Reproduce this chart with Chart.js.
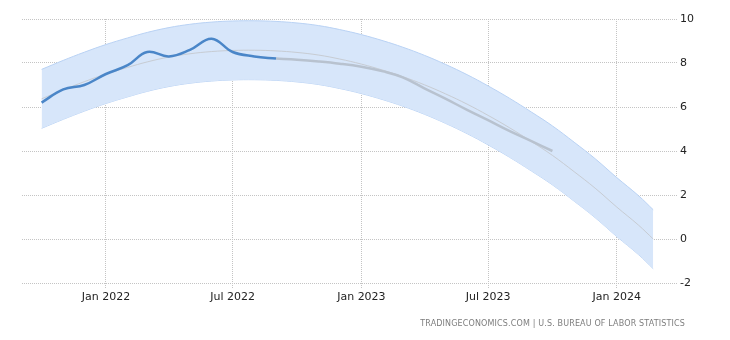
<!DOCTYPE html>
<html>
<head>
<meta charset="utf-8">
<script src="https://cdn.jsdelivr.net/npm/chart.js@4.4.1/dist/chart.umd.min.js"></script>
<style>
  html, body { margin: 0; padding: 0; background: #fff; }
  #wrap { position: relative; width: 730px; height: 340px; }
  #source {
    position: absolute; right: 45px; top: 319px;
    font: 8px "DejaVu Sans", sans-serif; color: #7d7d7d;
    letter-spacing: 0.15px; white-space: nowrap;
  }
</style>
</head>
<body>
<div id="wrap">
  <canvas id="chart" width="730" height="340"></canvas>
  <div id="source">TRADINGECONOMICS.COM | U.S. BUREAU OF LABOR STATISTICS</div>
</div>
<script>
// inflation rate, monthly (YoY %)
const actualDates = ['2021-10-01','2021-11-01','2021-12-01','2022-01-01','2022-02-01','2022-03-01',
                     '2022-04-01','2022-05-01','2022-06-01','2022-07-01','2022-08-01','2022-09-01'];
const actualValues = [6.2, 6.8, 7.0, 7.5, 7.9, 8.5, 8.3, 8.6, 9.1, 8.5, 8.3, 8.2];

// forecast path
const forecastDates = ['2022-09-01','2022-10-01','2022-11-01','2022-12-01','2023-01-01','2023-02-01','2023-03-01',
                       '2023-04-01','2023-05-01','2023-06-01','2023-07-01','2023-08-01','2023-09-01','2023-10-01'];
const forecastValues = [8.2, 8.15, 8.07, 7.97, 7.83, 7.62, 7.35, 6.85, 6.38, 5.87, 5.4, 4.9, 4.45, 4.0];

// long-run trend and its range
const trendDates = ['2021-10-01','2021-11-01','2021-12-01','2022-01-01','2022-02-01','2022-03-01','2022-04-01',
                    '2022-05-01','2022-06-01','2022-07-01','2022-08-01','2022-09-01','2022-10-01','2022-11-01',
                    '2022-12-01','2023-01-01','2023-02-01','2023-03-01','2023-04-01','2023-05-01','2023-06-01',
                    '2023-07-01','2023-08-01','2023-09-01','2023-10-01','2023-11-01','2023-12-01','2024-01-01',
                    '2024-02-01','2024-02-22'];
const trendValues = [6.37, 6.78, 7.15, 7.5, 7.8, 8.05, 8.27, 8.42, 8.52, 8.57, 8.58, 8.55, 8.48, 8.36,
                     8.18, 7.95, 7.67, 7.38, 7.01, 6.6, 6.13, 5.62, 5.05, 4.43, 3.8, 3.06, 2.31, 1.45,
                     0.63, 0.0];
const bandHigh = [7.71, 8.12, 8.49, 8.84, 9.14, 9.39, 9.61, 9.76, 9.86, 9.91, 9.92, 9.89, 9.82, 9.7,
                  9.52, 9.29, 9.01, 8.72, 8.35, 7.94, 7.47, 6.96, 6.39, 5.77, 5.14, 4.4, 3.65, 2.79,
                  1.97, 1.33];
const bandLow = [5.03, 5.44, 5.81, 6.16, 6.46, 6.71, 6.93, 7.08, 7.18, 7.23, 7.24, 7.21, 7.14, 7.02,
                 6.84, 6.61, 6.33, 6.04, 5.67, 5.26, 4.79, 4.28, 3.71, 3.09, 2.46, 1.72, 0.97, 0.11,
                 -0.71, -1.35];

const xTickDates = ['2022-01-01','2022-07-01','2023-01-01','2023-07-01','2024-01-01'];
const xTickLabels = ['Jan 2022','Jul 2022','Jan 2023','Jul 2023','Jan 2024'];
const yTicks = [-2, 0, 2, 4, 6, 8, 10];

// days since 1 Jan 2022
function dayNum(s) {
    return (Date.parse(s) - Date.parse('2022-01-01')) / 86400000;
}

function toPoints(dates, values) {
    return dates.map((d, i) => ({ x: dayNum(d), y: values[i] }));
}

const tickFont = { family: 'DejaVu Sans', size: 11 };
const gridColor = '#c4c4c4';
const gridDash = [1, 1];

new Chart(document.getElementById('chart').getContext('2d'), {
    type: 'line',
    data: {
        datasets: [
            {
                data: toPoints(actualDates, actualValues),
                borderColor: '#4a86c8',
                borderWidth: 2.5,
                tension: 0.4,
                pointRadius: 0,
                fill: false
            },
            {
                data: toPoints(forecastDates, forecastValues),
                borderColor: '#b8c2cf',
                borderWidth: 2.5,
                tension: 0.4,
                pointRadius: 0,
                fill: false
            },
            {
                data: toPoints(trendDates, trendValues),
                borderColor: '#c7ccd3',
                borderWidth: 1,
                tension: 0.4,
                pointRadius: 0,
                fill: false
            },
            {
                data: toPoints(trendDates, bandHigh),
                borderColor: '#b9d2f4',
                borderWidth: 1,
                backgroundColor: '#d7e6fa',
                tension: 0.4,
                pointRadius: 0,
                fill: '+1'
            },
            {
                data: toPoints(trendDates, bandLow),
                borderColor: '#b9d2f4',
                borderWidth: 1,
                tension: 0.4,
                pointRadius: 0,
                fill: false
            }
        ]
    },
    options: {
        responsive: false,
        animation: false,
        events: [],
        layout: { padding: { left: 22, top: 19, right: 0, bottom: 0 } },
        plugins: {
            legend: { display: false },
            tooltip: { enabled: false }
        },
        scales: {
            x: {
                type: 'linear',
                min: dayNum('2021-09-03'),
                max: dayNum('2024-03-27'),
                border: { display: false, dash: gridDash },
                grid: {
                    color: gridColor,
                    tickBorderDash: gridDash,
                    tickColor: gridColor,
                    tickLength: 6
                },
                afterBuildTicks: function(scale) {
                    scale.ticks = xTickDates.map(d => ({ value: dayNum(d) }));
                },
                afterFit: function(scale) {
                    scale.height = 57;
                },
                ticks: {
                    color: '#222',
                    font: tickFont,
                    padding: 2,
                    maxRotation: 0,
                    autoSkip: false,
                    callback: function(value) {
                        const i = xTickDates.findIndex(d => dayNum(d) === value);
                        return i >= 0 ? xTickLabels[i] : '';
                    }
                }
            },
            y: {
                position: 'right',
                min: -2,
                max: 10,
                border: { display: false, dash: gridDash },
                grid: {
                    color: gridColor,
                    drawTicks: false
                },
                afterBuildTicks: function(scale) {
                    scale.ticks = yTicks.map(v => ({ value: v }));
                },
                afterFit: function(scale) {
                    scale.width = 53;
                },
                ticks: {
                    color: '#222',
                    font: tickFont,
                    padding: 3
                }
            }
        }
    }
});
</script>
</body>
</html>
